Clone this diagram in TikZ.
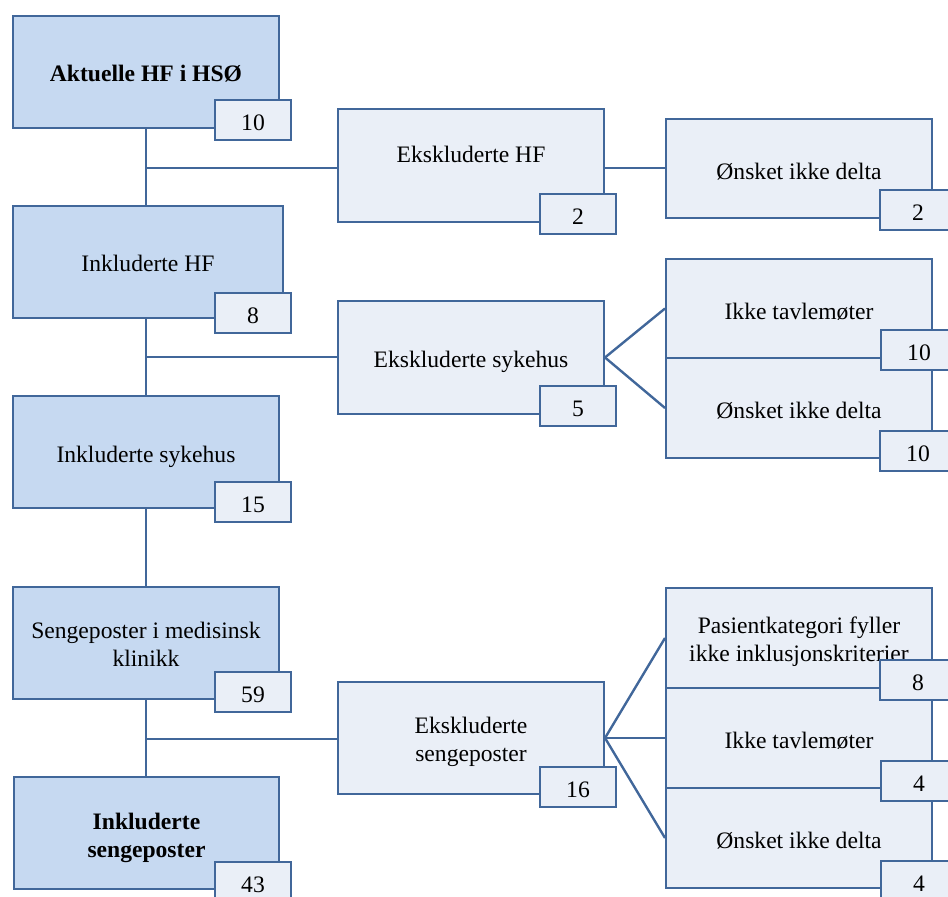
\documentclass[tikz,border=0pt]{standalone}
\usepackage{fontspec}
\setmainfont{Liberation Serif}
\usetikzlibrary{backgrounds}
\definecolor{lblue}{HTML}{C6D9F1}
\definecolor{pale}{HTML}{EAEFF7}
\definecolor{bord}{HTML}{41679A}
\begin{document}
\begin{tikzpicture}[x=0.5pt,y=-0.5pt,
  txt/.style={align=center, inner sep=0pt, font=\fontsize{11.8}{14}\selectfont, yshift=-1.5pt},
  base/.style={draw=bord, line width=1pt, anchor=north west, inner sep=0pt},
  mainbox/.style={base, fill=lblue, minimum width=133pt, minimum height=56pt},
  exbox/.style={base, fill=pale, minimum width=133pt, minimum height=56.5pt},
  rbox/.style={base, fill=pale, minimum width=133pt, minimum height=50pt},
  numbox/.style={base, fill=pale, minimum width=38pt, minimum height=20pt,
    font=\fontsize{11.8}{14}\selectfont, text height=10.5pt, text depth=0pt},
  conn/.style={draw=bord, line width=1.2pt}]
\useasboundingbox (0,0) rectangle (948,897);
\clip (0,0) rectangle (948,897);
% left column
\node[mainbox, label={[txt, yshift=0.5pt]center:\bfseries Aktuelle HF i HSØ}] (a1) at (12,15) {};
\node[mainbox, minimum width=135pt, label={[txt, yshift=1pt]center:Inkluderte HF}] (a2) at (12,205) {};
\node[mainbox, label={[txt, yshift=-1pt]center:Inkluderte sykehus}] (a3) at (12,395) {};
\node[mainbox, label={[txt, yshift=1pt]center:Sengeposter i medisinsk\\klinikk}] (a4) at (12,586) {};
\node[mainbox, minimum width=132.5pt, label={[txt, yshift=-1pt]center:\bfseries Inkluderte\\\bfseries sengeposter}] (a5) at (13,776) {};
% middle column
\node[exbox, label={[txt, yshift=7pt]center:Ekskluderte HF}] (e1) at (337,108) {};
\node[exbox, label={[txt, yshift=-0.5pt]center:Ekskluderte sykehus}] (e2) at (337,300) {};
\node[exbox, minimum height=56pt, label={[txt, yshift=-0.5pt]center:Ekskluderte\\sengeposter}] (e3) at (337,681) {};
% right column
\node[rbox, minimum height=49.5pt, label={[txt]center:Ønsket ikke delta}] (r1) at (665,118) {};
\node[rbox, minimum height=49.5pt, label={[txt]center:Ikke tavlemøter}] (r2) at (665,258) {};
\node[rbox, label={[txt]center:Ønsket ikke delta}] (r3) at (665,357) {};
\node[rbox, label={[txt, yshift=-0.5pt]center:Pasientkategori fyller\\ikke inklusjonskriterier}] (r4) at (665,587) {};
\node[rbox, label={[txt]center:Ikke tavlemøter}] (r5) at (665,687) {};
\node[rbox, label={[txt]center:Ønsket ikke delta}] (r6) at (665,787) {};
% number boxes
\node[numbox] (n1) at (214,99) {10};
\node[numbox] (n2) at (214,292) {8};
\node[numbox] (n3) at (214,481) {15};
\node[numbox] (n4) at (214,671) {59};
\node[numbox] (n5) at (214,861) {43};
\node[numbox] (m1) at (539,193) {2};
\node[numbox] (m2) at (539,385) {5};
\node[numbox] (m3) at (539,766) {16};
\node[numbox] (q1) at (879,189) {2};
\node[numbox] (q2) at (880,329) {10};
\node[numbox] (q3) at (879,430) {10};
\node[numbox] (q4) at (879,659) {8};
\node[numbox] (q5) at (880,760) {4};
\node[numbox] (q6) at (880,860) {4};
% junctions
\coordinate (j1) at (146,168);
\coordinate (j2) at (146,357);
\coordinate (j3) at (146,739);
\coordinate (k1) at (603,168);
\begin{pgfonlayer}{background}
\draw[conn] (a1.south -| j1) -- (a5.north -| j1);
\draw[conn] (j1) -- (e1.west |- j1);
\draw[conn] (j2) -- (e2.west |- j2);
\draw[conn] (j3) -- (e3.west |- j3);
\draw[conn] (e1.east |- k1) -- (r1.west |- k1);
\draw[conn] (e2.east) -- (r2.west);
\draw[conn] (e2.east) -- (r3.west);
\draw[conn] (e3.east) -- (r4.west);
\draw[conn] (e3.east) -- (r5.west);
\draw[conn] (e3.east) -- (r6.west);
\end{pgfonlayer}
\end{tikzpicture}
\end{document}
